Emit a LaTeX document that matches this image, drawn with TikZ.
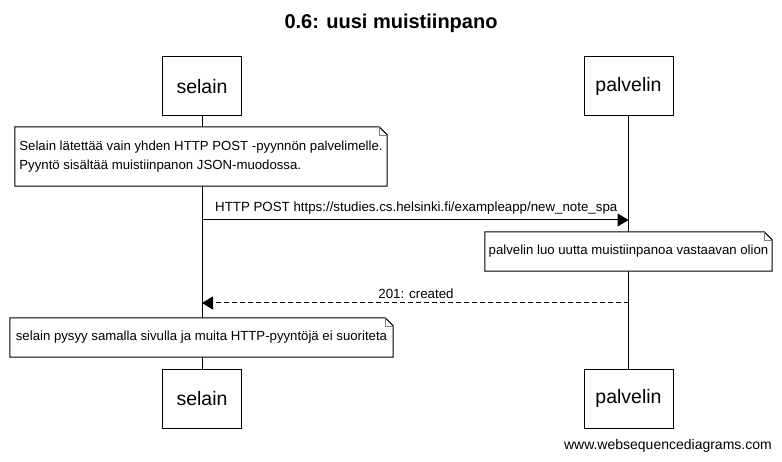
\documentclass[tikz,border=0pt]{standalone}
\usepackage{fontspec}
\setmainfont{Liberation Sans}
\usetikzlibrary{arrows.meta,positioning}

\begin{document}
\begin{tikzpicture}
[x=1pt,y=-1pt,
actor/.style={draw,line width=1pt,minimum height=59pt,inner sep=0pt,font=\fontsize{19.5}{22}\selectfont},
note/.style={fill=white,inner sep=0pt,minimum height=39pt,align=left,font=\fontsize{13.2}{19}\selectfont},
life/.style={line width=1pt},
msg/.style={line width=1pt,-{Triangle[length=11pt,width=13pt]}},
reply/.style={msg,dash pattern=on 5pt off 3pt},
lbl/.style={anchor=base,inner sep=0pt,font=\fontsize{13.3}{15}\selectfont}
]
\newcommand{\dogear}[1]{%
\draw[line width=1pt] (#1.north west) -- ([xshift=-8pt]#1.north east) --
([yshift=-8pt]#1.north east) -- (#1.south east) -- (#1.south west) -- cycle;
\draw[black!50] ([xshift=-8pt]#1.north east) |- ([yshift=-8pt]#1.north east);}
\path[use as bounding box,fill=white] (0,0) rectangle (782,462);
%% title
\node (title) [anchor=base,font=\bfseries\fontsize{20}{24}\selectfont] at (391,29) {0.6: uusi muistiinpano};
%% actors
\node (selainTop) [actor,minimum width=79pt] at (202,86.5) {selain};
\node (palvelinTop) [actor,minimum width=89pt] at (628.5,86.5) {palvelin};
\node (selainBot) [actor,minimum width=79pt] at (202,398.5) {selain};
\node (palvelinBot) [actor,minimum width=89pt] at (628.5,398.5) {palvelin};
%% lifelines
\draw[life] (selainTop) -- (selainBot);
\draw[life] (palvelinTop) -- (palvelinBot);
%% note on selain
\node (note1) [note,minimum width=372pt,minimum height=59pt] at (201,156.5)
{Selain lätettää vain yhden HTTP POST -pyynnön palvelimelle.\\Pyyntö sisältää muistiinpanon JSON-muodossa.};
\dogear{note1}
%% request
\coordinate (postFrom) at (selainTop |- 0,220);
\coordinate (postTo) at (palvelinTop |- 0,220);
\draw[msg] (postFrom) -- (postTo);
\node (postLbl) [lbl,anchor=base west] at (215,212)
{HTTP POST https://studies.cs.helsinki.fi/exampleapp/new\_note\_spa};
%% note on palvelin
\node (note2) [note,minimum width=287pt] at (628.5,251.5) {palvelin luo uutta muistiinpanoa vastaavan olion};
\dogear{note2}
%% response
\coordinate (respFrom) at (palvelinTop |- 0,303);
\coordinate (respTo) at (selainTop |- 0,303);
\draw[reply] (respFrom) -- (respTo);
\node (respLbl) [lbl] at (416,299) {201: created};
%% note on selain
\node (note3) [note,minimum width=383pt] at (201.5,337.5) {selain pysyy samalla sivulla ja muita HTTP-pyyntöjä ei suoriteta};
\dogear{note3}
%% footer
\node (footer) [anchor=base east,inner sep=0pt,font=\fontsize{14}{16}\selectfont] at (772,449) {www.websequencediagrams.com};
\end{tikzpicture}
\end{document}
